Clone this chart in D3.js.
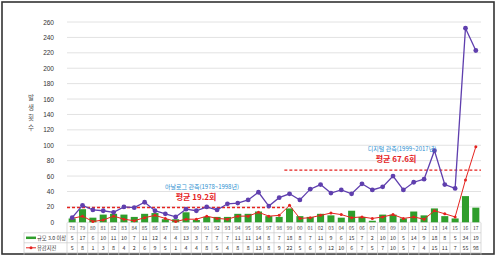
<!DOCTYPE html>
<html>
<head>
<meta charset="utf-8">
<script src="https://cdn.jsdelivr.net/npm/d3@7"></script>
<style>
  body { margin: 0; background: #fff; }
  svg { display: block; font-family: "Noto Sans CJK KR", "Noto Sans", sans-serif; }
</style>
</head>
<body>
<div id="chart"></div>
<script>
// Data
const years = ["78","79","80","81","82","83","84","85","86","87","88","89","90","91","92","93","94","95","96","97","98","99",
  "00","01","02","03","04","05","06","07","08","09","10","11","12","13","14","15","16","17"];
const totalCount = [6,22,16,15,13,20,19,26,15,11,7,17,15,20,16,24,25,29,39,21,32,37,
  29,43,49,38,42,37,50,42,46,60,42,52,56,93,49,44,252,223];
const mag3Count = [5,17,6,10,11,10,7,11,12,4,4,13,3,7,7,7,11,11,14,8,7,18,
  8,7,11,9,6,15,7,2,10,10,5,14,9,18,8,5,34,19];
const feltCount = [5,8,1,3,8,4,2,6,9,5,1,4,4,8,5,4,8,8,13,8,9,22,
  5,6,9,12,10,6,7,5,7,10,5,7,4,15,11,7,55,98];
const yTicks = [0,20,40,60,80,100,120,140,160,180,200,220,240,260];
const periods = [
  { label: "아날로그 관측(1978~1998년)", avgLabel: "평균 19.2회", avg: 19.2, from: "78", to: "98" },
  { label: "디지털 관측(1999~2017년)", avgLabel: "평균 67.6회", avg: 67.6, from: "99", to: "17" }
];
const rowLabels = ["규모 3.0 이상", "유감지진"];

const W = 497, H = 256;
const margin = { top: 22, right: 16, bottom: 34, left: 67 };
const plotW = 481 - margin.left;
const plotH = 222.3 - margin.top;

const purple = "#5f3fae", red = "#e5231f", green = "#2f9e2c";

const svg = d3.select("#chart").append("svg")
  .attr("width", W).attr("height", H);

// outer frame
svg.append("rect")
  .attr("x", 2).attr("y", 2).attr("width", W - 5).attr("height", H - 4)
  .attr("fill", "none").attr("stroke", "#333").attr("stroke-width", 1.6);

const g = svg.append("g").attr("transform", `translate(${margin.left},${margin.top})`);

const x = d3.scaleBand().domain(years).range([0, plotW]).paddingInner(0.32).paddingOuter(0.16);
const xc = d => x(d) + x.bandwidth() / 2;
const y = d3.scaleLinear().domain([0, 260]).range([plotH, 0]);

// gridlines
g.append("g").selectAll("line").data(yTicks).enter().append("line")
  .attr("x1", 0).attr("x2", plotW)
  .attr("y1", d => y(d)).attr("y2", d => y(d))
  .attr("stroke", "#e2e2e2").attr("stroke-width", 1);

// y axis
const yAxis = g.append("g")
  .call(d3.axisLeft(y).tickValues(yTicks).tickSize(0).tickPadding(13));
yAxis.select(".domain").remove();
yAxis.selectAll("text").attr("font-size", 6.5).attr("fill", "#333");

// y title stacked
const yTitle = "발생횟수".split("");
svg.append("g").selectAll("text").data(yTitle).enter().append("text")
  .attr("x", 31).attr("y", (d, i) => 100 + i * 10)
  .attr("text-anchor", "middle").attr("font-size", 6.5).attr("fill", "#555")
  .text(d => d);

// bars
g.append("g").selectAll("rect").data(years).enter().append("rect")
  .attr("x", d => x(d))
  .attr("y", (d, i) => y(mag3Count[i]))
  .attr("width", x.bandwidth())
  .attr("height", (d, i) => plotH - y(mag3Count[i]))
  .attr("fill", green);

// average dashed lines
periods.forEach(p => {
  const i0 = years.indexOf(p.from), i1 = years.lastIndexOf(p.to);
  const x0 = x(years[i0]) - x.step() * x.paddingInner() / 2;
  const x1 = x(years[i1]) + x.bandwidth() + x.step() * x.paddingInner() / 2;
  g.append("line")
    .attr("x1", i0 === 0 ? 0 : x0).attr("x2", i1 === years.length - 1 ? plotW : x1)
    .attr("y1", y(p.avg)).attr("y2", y(p.avg))
    .attr("stroke", red).attr("stroke-width", 1.3).attr("stroke-dasharray", "3,2");
});

// felt line
const line = d3.line().x(d => xc(d[0])).y(d => y(d[1]));
g.append("path")
  .datum(years.map((d, i) => [d, feltCount[i]]))
  .attr("d", line).attr("fill", "none").attr("stroke", red).attr("stroke-width", 1);
g.append("g").selectAll("circle").data(years).enter().append("circle")
  .attr("cx", d => xc(d)).attr("cy", (d, i) => y(feltCount[i]))
  .attr("r", 1.5).attr("fill", red);

// total line
g.append("path")
  .datum(years.map((d, i) => [d, totalCount[i]]))
  .attr("d", line).attr("fill", "none").attr("stroke", purple).attr("stroke-width", 1.3);
g.append("g").selectAll("circle").data(years).enter().append("circle")
  .attr("cx", d => xc(d)).attr("cy", (d, i) => y(totalCount[i]))
  .attr("r", 2.4).attr("fill", purple);

// period annotations
const annoPos = [
  { cx: 202, ly: 188.5, ay: 199.5 },
  { cx: 402, ly: 150.5, ay: 161.5 }
];
periods.forEach((p, i) => {
  svg.append("text")
    .attr("x", annoPos[i].cx).attr("y", annoPos[i].ly)
    .attr("text-anchor", "middle").attr("font-size", 6).attr("fill", "#2d8fd0")
    .text(p.label);
  svg.append("text")
    .attr("x", annoPos[i].cx - 6).attr("y", annoPos[i].ay)
    .attr("text-anchor", "middle").attr("font-size", 8).attr("font-weight", "bold")
    .attr("fill", red)
    .text(p.avgLabel);
});

// data table
const tTop = margin.top + plotH + 0.5;
const rowH = 10;
const tLeft = 24;
const table = svg.append("g");
// year header cells
table.selectAll(".yr").data(years).enter().append("text")
  .attr("x", d => margin.left + xc(d)).attr("y", tTop + 7.5)
  .attr("text-anchor", "middle").attr("font-size", 5).attr("fill", "#444")
  .text(d => d);
// horizontal lines
[1, 2, 3].forEach(k => {
  table.append("line")
    .attr("x1", tLeft).attr("x2", margin.left + plotW)
    .attr("y1", tTop + k * rowH).attr("y2", tTop + k * rowH)
    .attr("stroke", "#c8c8c8").attr("stroke-width", 0.7);
});
// vertical lines
const vx = [tLeft, margin.left].concat(years.map((d, i) => margin.left + (i + 1) * plotW / years.length));
table.selectAll(".vl").data(vx).enter().append("line")
  .attr("x1", d => d).attr("x2", d => d)
  .attr("y1", (d, i) => i === 0 ? tTop + rowH : tTop).attr("y2", tTop + 3 * rowH + 2)
  .attr("stroke", "#c8c8c8").attr("stroke-width", 0.7);

[mag3Count, feltCount].forEach((arr, r) => {
  const ry = tTop + rowH * (r + 1);
  table.selectAll(".v" + r).data(arr).enter().append("text")
    .attr("x", (d, i) => margin.left + xc(years[i])).attr("y", ry + 7)
    .attr("text-anchor", "middle").attr("font-size", 5.3).attr("fill", "#333")
    .text(d => d);
  // legend key
  if (r === 0) {
    table.append("line").attr("x1", 26).attr("x2", 36).attr("y1", ry + 5).attr("y2", ry + 5)
      .attr("stroke", green).attr("stroke-width", 2.5);
  } else {
    table.append("line").attr("x1", 26).attr("x2", 36).attr("y1", ry + 5).attr("y2", ry + 5)
      .attr("stroke", red).attr("stroke-width", 1);
    table.append("circle").attr("cx", 31).attr("cy", ry + 5).attr("r", 1.5).attr("fill", red);
  }
  table.append("text")
    .attr("x", 37).attr("y", ry + 7)
    .attr("font-size", 5.3).attr("fill", "#333")
    .text(rowLabels[r]);
});
</script>
</body>
</html>
